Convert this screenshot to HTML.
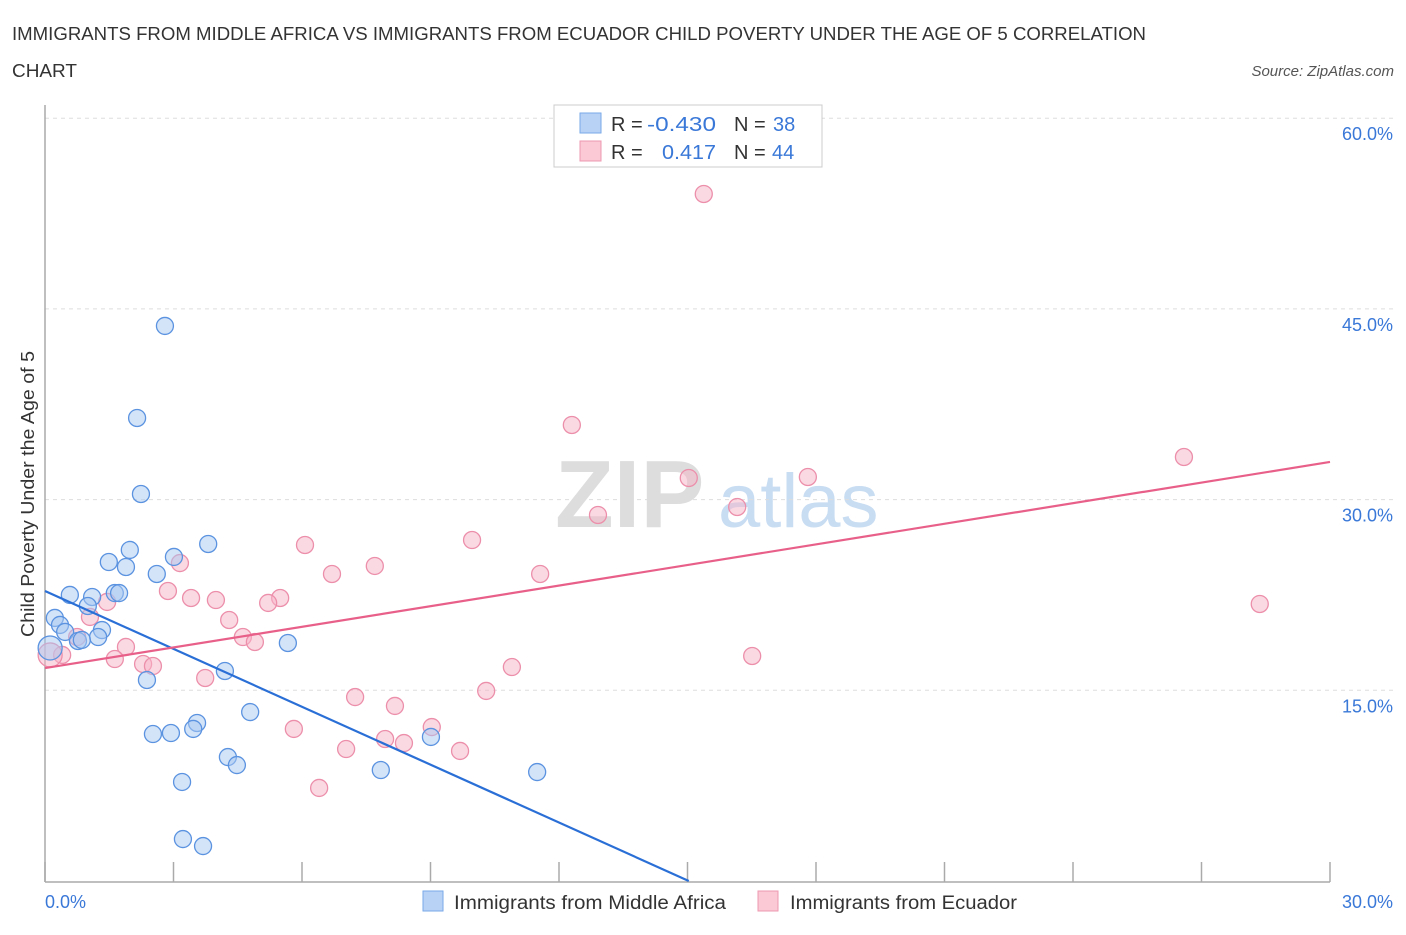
<!DOCTYPE html>
<html><head><meta charset="utf-8"><style>
body{margin:0;background:#fff;font-family:"Liberation Sans",sans-serif}
svg text{font-family:"Liberation Sans",sans-serif}
</style></head><body>
<svg width="1406" height="930" viewBox="0 0 1406 930">
<text x="12" y="40" font-size="18" fill="#333" textLength="1134" lengthAdjust="spacingAndGlyphs">IMMIGRANTS FROM MIDDLE AFRICA VS IMMIGRANTS FROM ECUADOR CHILD POVERTY UNDER THE AGE OF 5 CORRELATION</text>
<text x="12" y="77" font-size="18" fill="#333" textLength="65" lengthAdjust="spacingAndGlyphs">CHART</text>
<text x="1394" y="76" font-size="15" fill="#555" font-style="italic" text-anchor="end">Source: ZipAtlas.com</text>
<g>
<text x="555" y="527" font-size="96" fill="#ddd" font-family="Liberation Serif" font-weight="bold">ZIP</text>
<text x="718" y="527" font-size="76" fill="#c8dcf2">atlas</text>
</g>
<g id="grid"></g>
<g id="axes"></g>
<g id="pts"></g>
<g id="trend"></g>
<text transform="translate(34,494) rotate(-90)" font-size="18" fill="#333" text-anchor="middle" textLength="286" lengthAdjust="spacingAndGlyphs">Child Poverty Under the Age of 5</text>
<text x="45" y="908" font-size="18" fill="#3a78d8">0.0%</text>
<text x="1393" y="908" font-size="18" fill="#3a78d8" text-anchor="end">30.0%</text>
<g>
<rect x="554" y="105" width="268" height="62" fill="#fff" stroke="#ccc"/>
<rect x="580" y="113" width="21" height="20" fill="#b8d2f5" stroke="#7aa8e8"/>
<rect x="580" y="141" width="21" height="20" fill="#fbc8d6" stroke="#ee98b0"/>
<text x="611" y="131" font-size="20" fill="#333">R = <tspan x="647" fill="#3a78d8" textLength="69" lengthAdjust="spacingAndGlyphs">-0.430</tspan></text>
<text x="734" y="131" font-size="20" fill="#333">N = <tspan x="773" fill="#3a78d8">38</tspan></text>
<text x="611" y="159" font-size="20" fill="#333">R = <tspan x="662" fill="#3a78d8" textLength="54" lengthAdjust="spacingAndGlyphs">0.417</tspan></text>
<text x="734" y="159" font-size="20" fill="#333">N = <tspan x="772" fill="#3a78d8">44</tspan></text>
</g>
<g>
<rect x="423" y="891" width="20" height="20" fill="#b8d2f5" stroke="#7aa8e8"/>
<text x="454" y="909" font-size="19" fill="#333" textLength="272" lengthAdjust="spacingAndGlyphs">Immigrants from Middle Africa</text>
<rect x="758" y="891" width="20" height="20" fill="#fbc8d6" stroke="#ee98b0"/>
<text x="790" y="909" font-size="19" fill="#333" textLength="227" lengthAdjust="spacingAndGlyphs">Immigrants from Ecuador</text>
</g>
</svg>
<script>
const yTicks=[15,30,45,60];
const yTickLabels=["15.0%","30.0%","45.0%","60.0%"];
const xTicks=[0,3,6,9,12,15,18,21,24,27,30];
const blueX=[2.80,2.15,2.24,3.81,1.98,1.49,1.89,3.01,2.61,0.58,1.10,1.63,1.73,1.00,0.23,0.35,0.47,1.33,1.24,0.77,0.86,0.12,5.67,2.38,4.20,4.79,3.55,3.46,2.52,2.94,9.01,4.27,4.48,7.84,11.49,3.20,3.22,3.69];
const blueY=[43.66,36.42,30.44,26.51,26.04,25.09,24.70,25.49,24.15,22.50,22.34,22.65,22.65,21.63,20.69,20.14,19.59,19.74,19.19,18.88,18.96,18.33,18.72,15.81,16.52,13.29,12.43,11.96,11.56,11.64,11.33,9.75,9.12,8.73,8.57,7.79,3.30,2.75];
const pinkX=[15.38,12.30,26.59,17.81,15.03,16.16,12.91,9.97,6.07,7.70,3.15,6.70,11.56,2.87,3.41,3.99,5.49,5.21,1.45,28.36,4.30,1.05,0.75,4.62,4.90,1.89,0.40,0.12,1.63,2.29,2.52,10.90,16.51,3.74,10.30,7.24,8.17,5.81,9.03,7.94,8.38,7.03,9.69,6.40];
const pinkY=[54.04,35.87,33.35,31.78,31.70,29.42,28.79,26.82,26.43,24.78,25.01,24.15,24.15,22.81,22.26,22.10,22.26,21.87,21.95,21.79,20.53,20.77,19.19,19.19,18.80,18.41,17.78,17.78,17.46,17.07,16.91,16.83,17.70,15.97,14.95,14.47,13.77,11.96,12.11,11.17,10.85,10.38,10.23,7.32];
const blueTrend=[[0,22.81],[15.03,0]];
const pinkTrend=[[0,16.75],[30,32.96]];
const NS="http://www.w3.org/2000/svg";
const X=v=>45+v/30*1285, Y=v=>881-v/15*190.7;
function mk(t,a,p){const e=document.createElementNS(NS,t);for(const k in a)e.setAttribute(k,a[k]);p.appendChild(e);return e;}
const grid=document.getElementById('grid'),axes=document.getElementById('axes'),pts=document.getElementById('pts'),tr=document.getElementById('trend');
yTicks.forEach((t,i)=>{
 const l=mk('line',{x1:45,x2:1395,y1:Y(t),y2:Y(t),stroke:'#ddd','stroke-dasharray':'4,4'},grid);
 
 
 const tx=mk('text',{x:1393,y:Y(t)+22,'font-size':18,fill:'#3a78d8','text-anchor':'end'},grid);
 tx.textContent=yTickLabels[i];
 
 
});
const ya=mk('line',{x1:45,x2:45,y1:105,y2:882,stroke:'#aaa','stroke-width':1.5},axes);


const xa=mk('line',{x1:45,x2:1330,y1:882,y2:882,stroke:'#aaa','stroke-width':1.5},axes);


xTicks.forEach(t=>{
 const l=mk('line',{x1:X(t),x2:X(t),y1:862,y2:882,stroke:'#aaa','stroke-width':1.5},axes);
 
 
});
function dots(xs,ys,fill,stroke,name){
 xs.forEach((x,i)=>{
  const big=(x<0.2);
  const c=mk('circle',{cx:X(x),cy:Y(ys[i]),r:big?12:8.5,fill:fill,'fill-opacity':0.5,stroke:stroke,'stroke-width':1.3},pts);
  
  
 });
}
dots(pinkX,pinkY,'#f8b4c8','#ec8fab','ecuador-point');
dots(blueX,blueY,'#a8c8f2','#5b93e0','middle-africa-point');
const b=mk('line',{x1:X(blueTrend[0][0]),y1:Y(blueTrend[0][1]),x2:X(blueTrend[1][0]),y2:Y(blueTrend[1][1]),stroke:'#2a6fd6','stroke-width':2.2},tr);


const p=mk('line',{x1:X(pinkTrend[0][0]),y1:Y(pinkTrend[0][1]),x2:X(pinkTrend[1][0]),y2:Y(pinkTrend[1][1]),stroke:'#e8608a','stroke-width':2.2},tr);


</script>
</body></html>
